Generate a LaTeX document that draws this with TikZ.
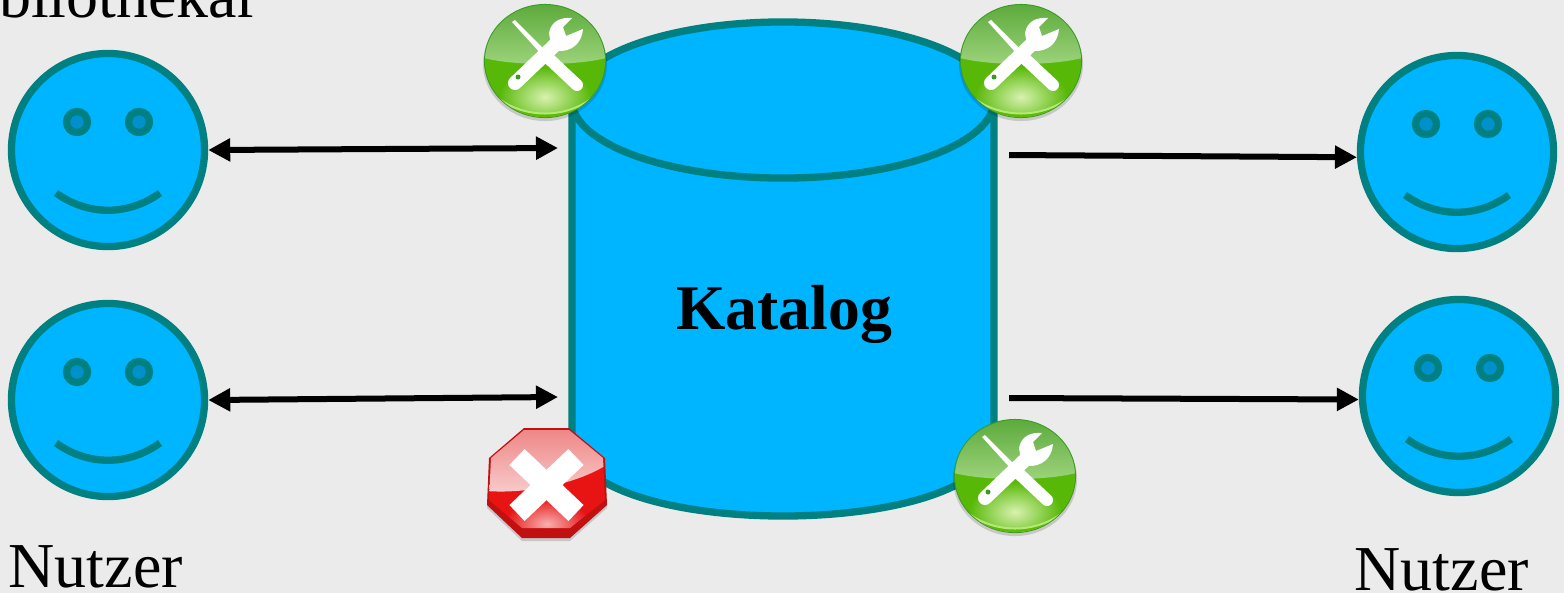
\documentclass[tikz,border=0pt]{standalone}
\usepackage{fontspec}
\setmainfont{Liberation Serif}
\usetikzlibrary{arrows.meta}
\definecolor{bgcol}{HTML}{EBEBEB}
\definecolor{bluecol}{HTML}{00B5FF}
\definecolor{tealcol}{HTML}{008080}
\definecolor{eyecol}{HTML}{0090CC}
\definecolor{greenedge}{HTML}{3A9A22}
\definecolor{greenrim}{HTML}{5EBC00}
\definecolor{greenband}{HTML}{B4E878}
\definecolor{greenlow}{HTML}{58B808}
\definecolor{greenglow}{HTML}{D8F2B0}
\definecolor{greentop}{HTML}{5CAA3C}
\definecolor{greenfade}{HTML}{9ED47C}
\definecolor{stopedge}{HTML}{C01010}
\definecolor{stopred}{HTML}{E81414}
\definecolor{stoptop}{HTML}{EE8484}
\definecolor{stopfade}{HTML}{F8CCCC}
\definecolor{stopglow}{HTML}{F6B0B0}
\tikzset{
  face/.style={circle,draw=tealcol,fill=bluecol,line width=0.073cm,minimum size=1.93cm,inner sep=0pt},
  tealline/.style={draw=tealcol,line width=0.073cm},
  flow/.style={black,line width=0.06cm,-{Triangle[length=0.22cm,width=0.22cm]}},
  flowboth/.style={black,line width=0.06cm,{Triangle[length=0.22cm,width=0.22cm]}-{Triangle[length=0.22cm,width=0.22cm]}},
  label/.style={inner sep=0pt,anchor=base west,font=\fontsize{18.2}{18.2}\selectfont}
}
% green tool button
\newcommand{\toolicon}[2]{
\begin{scope}[shift={(#1,#2)}]
\fill[black,opacity=0.15] (0,3) ellipse [x radius=0.62cm,y radius=0.57cm];
\fill[greenedge] (0,0) ellipse [x radius=0.61cm,y radius=0.57cm];
\begin{scope}
\clip (0,0) ellipse [x radius=0.60cm,y radius=0.56cm];
\fill[greenlow] (-61,-10) rectangle (61,60);
\shade[inner color=greenglow,outer color=greenlow] (0,36) ellipse [x radius=0.46cm,y radius=0.30cm];
\shade[top color=greentop,bottom color=greenfade] (-61,-57) -- (61,-57) -- (61,-3) .. controls (30,5) and (-30,5) .. (-61,-3) -- cycle;
\fill[greenrim] (-61,24) .. controls (-30,62) and (30,62) .. (61,24) -- (61,60) -- (-61,60) -- cycle;
\draw[greenband,line width=0.02cm] (-61,24) .. controls (-30,62) and (30,62) .. (61,24);
\end{scope}
\fill[white] (-33,-39) -- (-30,-41) -- (1,-10) -- (-3,-6) -- cycle;
\draw[white,line width=0.12cm,line cap=round] (-1,-7) -- (32,24);
\draw[white,line width=0.14cm,line cap=round] (-30,22) -- (12,-18);
\fill[white] (6,-16) -- (4,-28) .. controls (6,-40) and (16,-44) .. (27,-43) -- (18,-34) -- (21,-25) -- (38,-32)
  .. controls (37,-18) and (27,-9) .. (12,-10) -- cycle;
\fill[greenedge] (-27,16) circle [radius=0.025cm];
\end{scope}
}
% red stop sign
\newcommand{\stopicon}[2]{
\begin{scope}[shift={(#1,#2)}]
\fill[black,opacity=0.15] (-23,-53) -- (22,-53) -- (58,-23) -- (60,24) -- (23,57) -- (-25,57) -- (-60,24) -- (-58,-23) -- cycle;
\fill[stopedge] (-23,-56) -- (22,-56) -- (58,-26) -- (60,21) -- (23,54) -- (-25,54) -- (-60,21) -- (-58,-26) -- cycle;
\begin{scope}
\clip (-23,-54) -- (22,-54) -- (56,-26) -- (58,16) -- (23,44) -- (-25,44) -- (-58,16) -- (-56,-26) -- cycle;
\fill[stopred] (-61,-57) rectangle (61,57);
\shade[inner color=stopglow,outer color=stopred] (0,40) ellipse [x radius=0.42cm,y radius=0.26cm];
\shade[top color=stoptop,bottom color=stopfade] (-61,-57) -- (61,-57) -- (61,-20) .. controls (30,0) and (-20,10) .. (-61,7) -- cycle;
\end{scope}
\draw[white,line width=0.22cm] (-30,-27) -- (29,29);
\draw[white,line width=0.22cm] (29,-27) -- (-30,29);
\end{scope}
}
\begin{document}
\begin{tikzpicture}[x=0.01cm,y=-0.01cm]
\useasboundingbox (0,0) rectangle (1564,593);
\clip (0,0) rectangle (1564,593);
\fill[bgcol] (0,0) rectangle (1564,593);
% the persons
\foreach \nm/\cx/\cy in {biblio/108/150,nutzerA/108/400,nutzerB/1457/152,nutzerC/1459/396}{
\node[face] (\nm) at (\cx,\cy) {};
\begin{scope}[shift={(\cx,\cy)}]
\draw[tealline,fill=eyecol] (-31,-28) circle [radius=0.105cm];
\draw[tealline,fill=eyecol] (31,-28) circle [radius=0.105cm];
\draw[tealline] (-52,43) .. controls (-20,66) and (20,66) .. (52,43);
\end{scope}
}
% the catalogue
\draw[tealline,fill=bluecol] (572,100) -- (572,438) .. controls (572,542) and (994,542) .. (994,438) -- (994,100) -- cycle;
\draw[tealline,fill=bluecol] (783,100) ellipse [x radius=2.11cm,y radius=0.78cm];
\node[font=\fontsize{18.1}{18.1}\selectfont\bfseries,inner sep=0pt,anchor=base] (katalog) at (784,329) {Katalog};
% the arrows
\coordinate (inA) at (558,148);
\coordinate (inB) at (558,397);
\coordinate (outA) at (1009,155);
\coordinate (outB) at (1009,398);
\draw[flowboth] (biblio.east) -- (inA);
\draw[flowboth] (nutzerA.east) -- (inB);
\draw[flow] (outA) -- (nutzerB.183);
\draw[flow] (outB) -- (nutzerC.182);
% the buttons
\toolicon{545}{61}
\toolicon{1021}{61}
\toolicon{1015}{476}
\stopicon{547}{484}
% the texts
\node[label] (bibliothekar) at (-62,17) {Bibliothekar};
\node[label] (nutzerleft) at (8,587) {Nutzer};
\node[label] (nutzerright) at (1354,590) {Nutzer};
\end{tikzpicture}
\end{document}
